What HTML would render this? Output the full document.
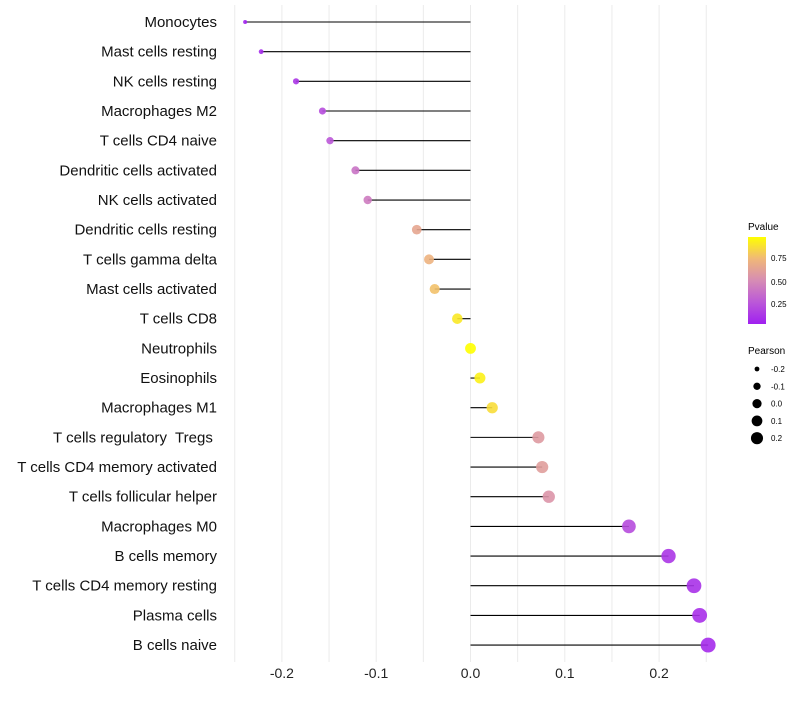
<!DOCTYPE html>
<html><head><meta charset="utf-8"><style>
body{margin:0;background:#fff;font-family:"Liberation Sans",sans-serif}
svg text{font-family:"Liberation Sans",sans-serif;white-space:pre}
</style></head><body>
<svg id="chart" width="800" height="700">
<defs><linearGradient id="pg" x1="0" y1="1" x2="0" y2="0">
<stop offset="0" stop-color="#a020f0"/><stop offset="0.25" stop-color="#bb58d8"/>
<stop offset="0.5" stop-color="#d68cb4"/><stop offset="0.75" stop-color="#f0b878"/>
<stop offset="1" stop-color="#ffff00"/></linearGradient></defs>
<g id="grid"></g>
<g id="marks"></g>
<g id="ylab"></g>
<g id="xlab"></g>
<g>
<text x="748" y="230" font-size="10">Pvalue</text>
<rect x="748" y="237" width="18" height="87" fill="url(#pg)"/>
<text x="771" y="261" font-size="8">0.75</text>
<text x="771" y="285" font-size="8">0.50</text>
<text x="771" y="307" font-size="8">0.25</text>
</g>
<g id="sizeleg">
<text x="748" y="354" font-size="10">Pearson</text>
</g>
</svg>
<script>
const categories=["Monocytes","Mast cells resting","NK cells resting","Macrophages M2","T cells CD4 naive","Dendritic cells activated","NK cells activated","Dendritic cells resting","T cells gamma delta","Mast cells activated","T cells CD8","Neutrophils","Eosinophils","Macrophages M1","T cells regulatory  Tregs ","T cells CD4 memory activated","T cells follicular helper","Macrophages M0","B cells memory","T cells CD4 memory resting","Plasma cells","B cells naive"];
const pearson=[-0.239,-0.222,-0.185,-0.157,-0.149,-0.122,-0.109,-0.057,-0.044,-0.038,-0.014,0.0,0.010,0.023,0.072,0.076,0.083,0.168,0.210,0.237,0.243,0.252];
const pvalue=[0.02,0.05,0.1,0.2,0.25,0.38,0.42,0.65,0.72,0.78,0.92,1.0,0.95,0.88,0.58,0.6,0.55,0.2,0.1,0.08,0.07,0.05];
const xTicks=[-0.2,-0.1,0.0,0.1,0.2];
const sizeLegend=[-0.2,-0.1,0.0,0.1,0.2];
const NS="http://www.w3.org/2000/svg";
const x=v=>470.5+v*943;
const y=i=>22+i*29.67;
const r=v=>Math.sqrt(Math.max(2,29.3+106*v));
const stops=[[0,[160,32,240]],[0.25,[187,88,216]],[0.5,[214,140,180]],[0.75,[240,184,120]],[1,[255,255,0]]];
function col(p){for(let k=1;k<stops.length;k++){if(p<=stops[k][0]){const a=stops[k-1],b=stops[k],t=(p-a[0])/(b[0]-a[0]);return 'rgb('+a[1].map((c,j)=>Math.round(c+(b[1][j]-c)*t)).join(',')+')';}}return 'rgb(255,255,0)';}
function mk(t,a,parent){const e=document.createElementNS(NS,t);for(const k in a)e.setAttribute(k,a[k]);parent.appendChild(e);return e;}
const grid=document.getElementById('grid'),marks=document.getElementById('marks'),yl=document.getElementById('ylab'),xl=document.getElementById('xlab'),sl=document.getElementById('sizeleg');
for(let v=-0.25;v<=0.2501;v+=0.05){const g=mk('line',{x1:x(v),x2:x(v),y1:5,y2:662,stroke:'#ebebeb','stroke-width':1},grid);

}
categories.forEach((c,i)=>{
const ln=mk('line',{x1:x(0),x2:x(pearson[i]),y1:y(i),y2:y(i),stroke:'#000','stroke-width':1.1},marks);


const ci=mk('circle',{cx:x(pearson[i]),cy:y(i),r:r(pearson[i]),fill:col(pvalue[i]),'fill-opacity':0.9},marks);


const t=mk('text',{x:217,y:y(i)+5,'text-anchor':'end','font-size':15,fill:'#111'},yl);t.textContent=c;


});
xTicks.forEach(v=>{const t=mk('text',{x:x(v),y:678,'text-anchor':'middle','font-size':14,fill:'#222'},xl);t.textContent=v.toFixed(1);

});
sizeLegend.forEach((v,k)=>{const cy=369+k*17.3;
const c=mk('circle',{cx:757,cy:cy,r:r(v)*0.85,fill:'#000'},sl);


const t=mk('text',{x:771,y:cy+3,'font-size':8},sl);t.textContent=v.toFixed(1);

});
</script>
</body></html>
